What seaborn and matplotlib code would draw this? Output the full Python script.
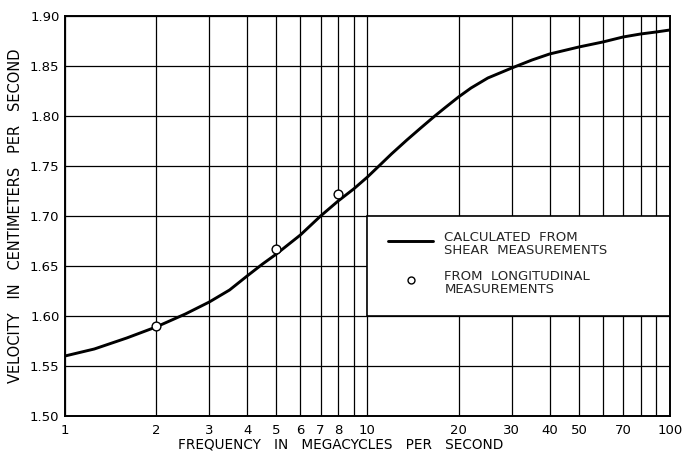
import matplotlib
matplotlib.use("Agg")
import matplotlib.pyplot as plt
from matplotlib.patches import Rectangle
from matplotlib.ticker import FixedLocator, FixedFormatter, NullLocator
import seaborn as sns
import pandas as pd

# Velocity calculated from shear measurements
curve_freq = [1, 1.25, 1.6, 2, 2.5, 3, 3.5, 4, 4.5, 5, 6, 7, 8, 9, 10, 11, 12, 13.5, 15,
              16.7, 18, 20, 22, 25, 30, 35, 40, 50, 60, 70, 80, 90, 100]
curve_vel = [1.560, 1.567, 1.578, 1.589, 1.602, 1.614, 1.626, 1.640, 1.652, 1.662, 1.681,
             1.700, 1.715, 1.727, 1.739, 1.751, 1.762, 1.776, 1.788, 1.800, 1.808, 1.819,
             1.828, 1.838, 1.848, 1.856, 1.862, 1.869, 1.874, 1.879, 1.882, 1.884, 1.886]

# Velocity from longitudinal measurements
point_freq = [2, 5, 8]
point_vel = [1.590, 1.667, 1.722]

x_grid = [1, 2, 3, 4, 5, 6, 7, 8, 9, 10, 20, 30, 40, 50, 60, 70, 80, 90, 100]
x_labels = ["1", "2", "3", "4", "5", "6", "7", "8", "", "10", "20", "30", "40", "50", "", "70", "", "", "100"]
y_ticks = [1.50, 1.55, 1.60, 1.65, 1.70, 1.75, 1.80, 1.85, 1.90]

sns.set_theme(style="white")
plt.rcParams["font.family"] = ["DejaVu Sans"]

curve_df = pd.DataFrame({"freq": curve_freq, "vel": curve_vel})
point_df = pd.DataFrame({"freq": point_freq, "vel": point_vel})

fig = plt.figure(figsize=(6.85, 4.53), dpi=100)
ax = fig.add_axes([0.0949, 0.0817, 0.8831, 0.883])

sns.lineplot(data=curve_df, x="freq", y="vel", ax=ax, color="black", lw=2.1, zorder=3)
sns.scatterplot(data=point_df, x="freq", y="vel", ax=ax, s=40, facecolor="white",
                edgecolor="black", linewidth=1.0, zorder=4)

ax.set_xscale("log")
ax.set_xlim(1, 100)
ax.set_ylim(1.50, 1.90)

ax.xaxis.set_major_locator(FixedLocator(x_grid))
ax.xaxis.set_major_formatter(FixedFormatter(x_labels))
ax.xaxis.set_minor_locator(NullLocator())
ax.set_yticks(y_ticks)
ax.set_yticklabels([f"{v:.2f}" for v in y_ticks])

ax.set_axisbelow(True)
ax.grid(True, which="major", color="black", lw=0.9)
ax.tick_params(axis="x", length=0, labelsize=9.5, colors="black", pad=6)
ax.tick_params(axis="y", length=0, labelsize=9.5, colors="black", pad=4)
for s in ax.spines.values():
    s.set_visible(True)
    s.set_color("black")
    s.set_linewidth(1.4)

ax.set_xlabel("FREQUENCY   IN   MEGACYCLES   PER   SECOND", fontsize=9.8, color="black")
ax.xaxis.set_label_coords(0.456, -0.053)
ax.set_ylabel("VELOCITY   IN   CENTIMETERS   PER   SECOND", fontsize=10.5, color="black", labelpad=5)

# Key box in the lower right, covering the grid
ax.add_patch(Rectangle((10, 1.60), 90, 0.10, facecolor="white", edgecolor="black",
                       lw=1.2, zorder=1.5))
ax.plot([0.534, 0.608], [0.4375, 0.4375], transform=ax.transAxes, color="black", lw=2.1, zorder=5)
ax.text(0.627, 0.4625, "CALCULATED  FROM\nSHEAR  MEASUREMENTS", transform=ax.transAxes,
        fontsize=9.5, va="top", ha="left", linespacing=1.05, zorder=5)
ax.plot([0.5715], [0.34], transform=ax.transAxes, marker="o", ms=5, mfc="white",
        mec="black", mew=1.0, zorder=5)
ax.text(0.627, 0.365, "FROM  LONGITUDINAL\nMEASUREMENTS", transform=ax.transAxes,
        fontsize=9.5, va="top", ha="left", linespacing=1.05, zorder=5)

fig.savefig("out.png", dpi=100)
